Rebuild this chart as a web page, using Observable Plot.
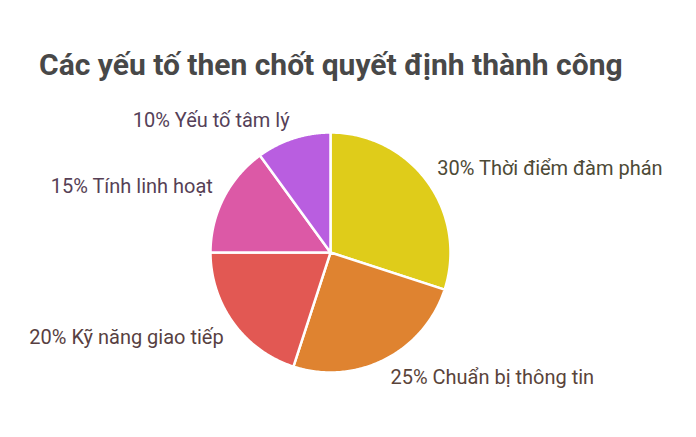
<!DOCTYPE html>
<html><head><meta charset="utf-8">
<script src="https://cdn.jsdelivr.net/npm/d3@7"></script>
<script src="https://cdn.jsdelivr.net/npm/@observablehq/plot@0.6"></script>
<style>
body{margin:0;background:#fff;font-family:Roboto,sans-serif;}
#title{height:100px;box-sizing:border-box;padding:46px 0 0 39px;font:700 30px Roboto,sans-serif;color:#484848;white-space:nowrap;line-height:38px;}
</style></head>
<body>
<div id="title">Các yếu tố then chốt quyết định thành công</div>
<div id="chart"></div>
<script>
const categories = ["Thời điểm đàm phán","Chuẩn bị thông tin","Kỹ năng giao tiếp","Tính linh hoạt","Yếu tố tâm lý"];
const values = [30, 25, 20, 15, 10];
const sliceColors = ["#DFCC1A","#DF8330","#E25853","#DC59A6","#B95EE0"];
const labelColors = ["#4d4a36","#5a443a","#583f42","#573f55","#553f58"];

const arcs = d3.pie().sort(null).value(d => d)(values);
const pts = [];
arcs.forEach((a, i) => {
  const steps = 120;
  pts.push({k: i, x: 0, y: 0});
  for (let s = 0; s <= steps; s++) {
    const t = a.startAngle + (a.endAngle - a.startAngle) * s / steps;
    pts.push({k: i, x: Math.sin(t), y: Math.cos(t)});
  }
  pts.push({k: i, x: 0, y: 0});
});
const labels = arcs.map((a, i) => {
  const m = (a.startAngle + a.endAngle) / 2;
  return {k: i, x: Math.sin(m) * 1.1, y: Math.cos(m) * 1.1,
    text: `${values[i]}% ${categories[i]}`,
    anchor: Math.sin(m) >= 0 ? "start" : "end",
    line: Math.cos(m) >= 0 ? "bottom" : "top"};
});

const W = 696, H = 337, R = 120, cx = 330, cy = 152;
const textMark = (anchor, line) => Plot.text(labels.filter(d => d.anchor === anchor && d.line === line), {
  x: "x", y: "y", text: "text", fill: d => labelColors[d.k],
  textAnchor: anchor, lineAnchor: line, fontSize: 20, fontFamily: "Roboto"});
const chart = Plot.plot({
  width: W, height: H, margin: 0,
  x: {domain: [-cx / R, (W - cx) / R], axis: null},
  y: {domain: [-(H - cy) / R, cy / R], axis: null},
  marks: [
    Plot.line(pts, {x: "x", y: "y", z: "k", fill: d => sliceColors[d.k], stroke: "white", strokeWidth: 2.5, strokeLinejoin: "round", curve: "linear"}),
    textMark("start", "bottom"), textMark("start", "top"),
    textMark("end", "bottom"), textMark("end", "top")
  ]
});
document.getElementById("chart").appendChild(chart);
</script>
</body></html>
